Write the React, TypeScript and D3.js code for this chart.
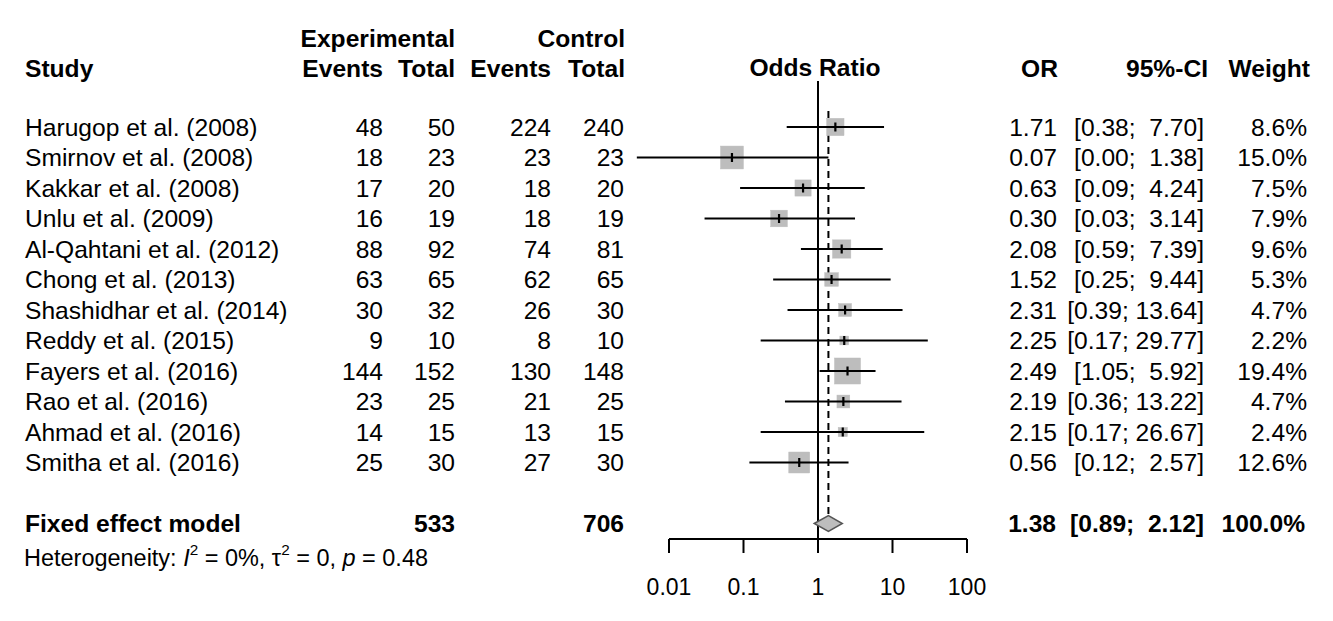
import React from "react";
import * as d3 from "d3";

const studies = [
  "Harugop et al. (2008)",
  "Smirnov et al. (2008)",
  "Kakkar et al. (2008)",
  "Unlu et al. (2009)",
  "Al-Qahtani et al. (2012)",
  "Chong et al. (2013)",
  "Shashidhar et al. (2014)",
  "Reddy et al. (2015)",
  "Fayers et al. (2016)",
  "Rao et al. (2016)",
  "Ahmad et al. (2016)",
  "Smitha et al. (2016)",
];
const expEvents = [48, 18, 17, 16, 88, 63, 30, 9, 144, 23, 14, 25];
const expTotal = [50, 23, 20, 19, 92, 65, 32, 10, 152, 25, 15, 30];
const ctrlEvents = [224, 23, 18, 18, 74, 62, 26, 8, 130, 21, 13, 27];
const ctrlTotal = [240, 23, 20, 19, 81, 65, 30, 10, 148, 25, 15, 30];
const oddsRatio = [1.71, 0.07, 0.63, 0.3, 2.08, 1.52, 2.31, 2.25, 2.49, 2.19, 2.15, 0.56];
const ciLower = [0.38, 0.0037, 0.09, 0.03, 0.59, 0.25, 0.39, 0.17, 1.05, 0.36, 0.17, 0.12];
const ciUpper = [7.7, 1.38, 4.24, 3.14, 7.39, 9.44, 13.64, 29.77, 5.92, 13.22, 26.67, 2.57];
const weights = [8.6, 15.0, 7.5, 7.9, 9.6, 5.3, 4.7, 2.2, 19.4, 4.7, 2.4, 12.6];

const pooledLabel = "Fixed effect model";
const pooledExpTotal = 533;
const pooledCtrlTotal = 706;
const pooledOR = 1.38;
const pooledLower = 0.89;
const pooledUpper = 2.12;
const pooledWeight = 100.0;

const axisTicks = [0.01, 0.1, 1, 10, 100];
const axisTickLabels = ["0.01", "0.1", "1", "10", "100"];

const FONT = "'Liberation Sans', Arial, Helvetica, sans-serif";
const FS = 24.6;

function fmtCI(lo: number, hi: number) {
  const l = lo.toFixed(2);
  const h = hi.toFixed(2);
  const pad = h.length < 5 ? "  " : " ";
  return `[${l};${pad}${h}]`;
}

export default function App() {
  const W = 1333;
  const H = 621;
  const x = d3.scaleLog().domain([0.01, 100]).range([669, 967]);
  const y = d3.scaleLinear().domain([0, 13]).range([127, 523.5]);
  const boxSide = d3.scaleSqrt().domain([0, 19.4]).range([0, 26]);
  const base = 8.8;

  const colStudy = 25;
  const colEE = 383;
  const colET = 455;
  const colCE = 551;
  const colCT = 624;
  const colOR = 1057;
  const colCI = 1204;
  const colW = 1307;

  const refX = x(1);
  const pooledX = x(pooledOR);
  const yPooled = y(13);
  const axisY = 539;

  return (
    <svg
      width={W}
      height={H}
      style={{ position: "absolute", left: 0, top: 0, background: "#fff" }}
      fontFamily={FONT}
      fontSize={FS}
    >
      <rect x={0} y={0} width={W} height={H} fill="#fff" />
      {/* headers */}
      <g fontWeight="bold" fill="#000">
        <text x={colET} y={47} textAnchor="end">Experimental</text>
        <text x={colCT + 1} y={47} textAnchor="end">Control</text>
        <text x={colStudy} y={77}>Study</text>
        <text x={colEE} y={77} textAnchor="end">Events</text>
        <text x={colET} y={77} textAnchor="end">Total</text>
        <text x={colCE} y={77} textAnchor="end">Events</text>
        <text x={colCT + 1} y={77} textAnchor="end">Total</text>
        <text x={refX - 3} y={76} textAnchor="middle">Odds Ratio</text>
        <text x={colOR + 1} y={77} textAnchor="end">OR</text>
        <text x={colCI + 4} y={77} textAnchor="end">95%-CI</text>
        <text x={colW + 3} y={77} textAnchor="end">Weight</text>
      </g>

      {/* reference lines */}
      <line x1={refX} x2={refX} y1={81} y2={axisY} stroke="#000" strokeWidth={2} />
      <line
        x1={pooledX}
        x2={pooledX}
        y1={111}
        y2={yPooled - 8}
        stroke="#000"
        strokeWidth={2}
        strokeDasharray="7,5"
      />

      {/* study rows */}
      {studies.map((s, i) => {
        const yy = y(i);
        const side = boxSide(weights[i]);
        const px = x(oddsRatio[i]);
        return (
          <g key={s}>
            <text x={colStudy} y={yy + base}>{s}</text>
            <text x={colEE} y={yy + base} textAnchor="end">{expEvents[i]}</text>
            <text x={colET} y={yy + base} textAnchor="end">{expTotal[i]}</text>
            <text x={colCE} y={yy + base} textAnchor="end">{ctrlEvents[i]}</text>
            <text x={colCT} y={yy + base} textAnchor="end">{ctrlTotal[i]}</text>
            <text x={colOR} y={yy + base} textAnchor="end">{oddsRatio[i].toFixed(2)}</text>
            <text x={colCI} y={yy + base} textAnchor="end" style={{ whiteSpace: "pre" }}>
              {fmtCI(ciLower[i], ciUpper[i])}
            </text>
            <text x={colW} y={yy + base} textAnchor="end">{weights[i].toFixed(1)}%</text>
            <rect
              x={px - side / 2}
              y={yy - side / 2}
              width={side}
              height={side}
              fill="#bdbdbd"
              stroke="#bdbdbd"
              strokeWidth={0.5}
            />
            <line
              x1={x(ciLower[i])}
              x2={x(ciUpper[i])}
              y1={yy}
              y2={yy}
              stroke="#000"
              strokeWidth={2.2}
            />
            <line x1={px} x2={px} y1={yy - 4.5} y2={yy + 4.5} stroke="#000" strokeWidth={2.2} />
          </g>
        );
      })}

      {/* pooled row */}
      <g fontWeight="bold">
        <text x={colStudy} y={yPooled + base}>{pooledLabel}</text>
        <text x={colET} y={yPooled + base} textAnchor="end">{pooledExpTotal}</text>
        <text x={colCT} y={yPooled + base} textAnchor="end">{pooledCtrlTotal}</text>
        <text x={colOR - 1} y={yPooled + base} textAnchor="end">{pooledOR.toFixed(2)}</text>
        <text x={colCI} y={yPooled + base} textAnchor="end" style={{ whiteSpace: "pre" }}>
          {fmtCI(pooledLower, pooledUpper)}
        </text>
        <text x={colW - 2} y={yPooled + base} textAnchor="end">{pooledWeight.toFixed(1)}%</text>
      </g>
      <path
        d={`M${x(pooledLower)},${yPooled} L${pooledX},${yPooled - 8} L${x(pooledUpper)},${yPooled} L${pooledX},${yPooled + 8} Z`}
        fill="#bdbdbd"
        stroke="#555"
        strokeWidth={1.5}
      />

      {/* heterogeneity */}
      <text x={24} y={566} fontSize={23} textLength={404} lengthAdjust="spacingAndGlyphs">
        <tspan>Heterogeneity: </tspan>
        <tspan fontStyle="italic">I</tspan>
        <tspan fontSize={15} dy={-11}>2</tspan>
        <tspan dy={11}> = 0%, τ</tspan>
        <tspan fontSize={15} dy={-11}>2</tspan>
        <tspan dy={11}> = 0, </tspan>
        <tspan fontStyle="italic">p</tspan>
        <tspan> = 0.48</tspan>
      </text>

      {/* axis */}
      <g>
        <line x1={x(0.01)} x2={x(100)} y1={axisY} y2={axisY} stroke="#000" strokeWidth={2} />
        {axisTicks.map((t, i) => (
          <g key={t}>
            <line x1={x(t)} x2={x(t)} y1={axisY} y2={axisY + 14} stroke="#000" strokeWidth={2} />
            <text x={x(t)} y={595} textAnchor="middle" fontSize={23}>
              {axisTickLabels[i]}
            </text>
          </g>
        ))}
      </g>
    </svg>
  );
}
